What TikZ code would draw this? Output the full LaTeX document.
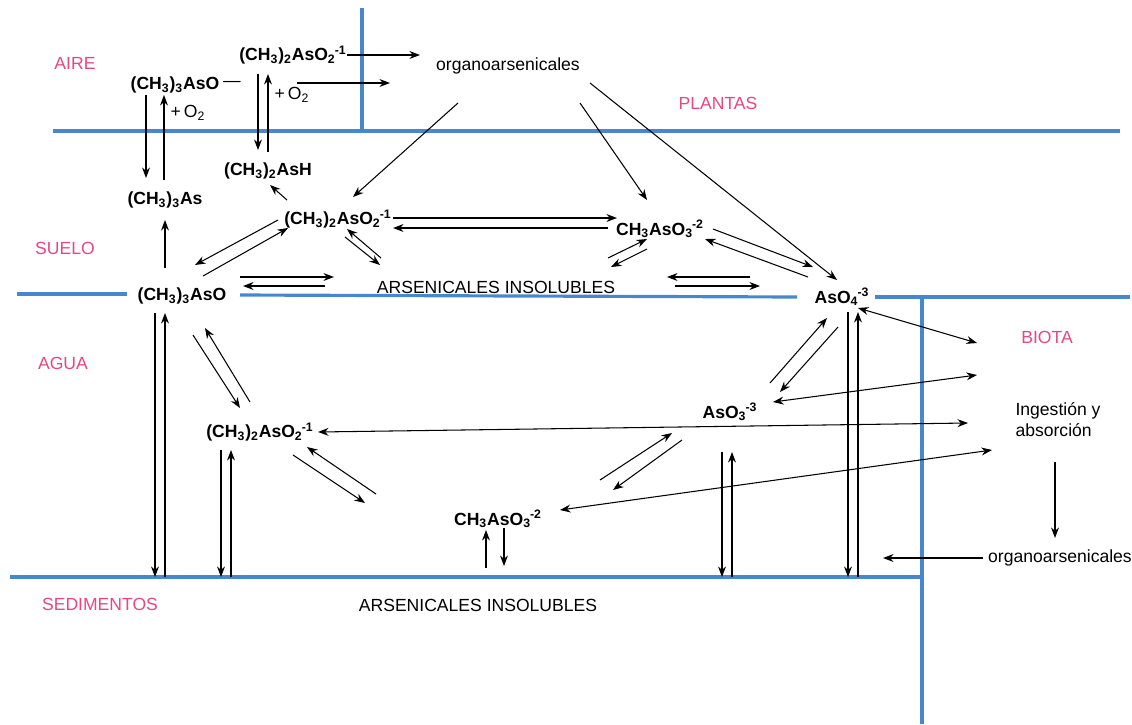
\documentclass[tikz,border=0pt]{standalone}
\usepackage{fontspec}
\setmainfont{Liberation Sans}
\usetikzlibrary{arrows.meta}
\definecolor{zonecol}{RGB}{228,72,130}
\definecolor{boundcol}{RGB}{70,135,205}
\newcommand\ssp[2]{\textsubscript{#1}\kern-0.5pt\textsuperscript{#2}}
\tikzset{
  chem/.style={font=\bfseries\fontsize{10}{12}\selectfont, inner sep=1pt},
  lbl/.style={font=\fontsize{10}{12}\selectfont, inner sep=1pt},
  zonelbl/.style={text=zonecol, font=\fontsize{10}{12}\selectfont},
  wall/.style={draw=boundcol, line width=1.8pt},
  arr/.style={-{Stealth[length=6pt,width=4.5pt]}, line width=0.6pt},
  dbl/.style={{Stealth[length=6pt,width=4.5pt]}-{Stealth[length=6pt,width=4.5pt]}, line width=0.6pt}
}
\begin{document}
\begin{tikzpicture}[x=0.02cm,y=-0.02cm]
\useasboundingbox (0,0) rectangle (1132,724);
% boundaries
\draw[wall] (362,8) -- (362,131);
\draw[wall] (53,131) -- (1120,131);
\draw[wall] (17,294) -- (127,294);
\draw[wall] (240,295) -- (797,297);
\draw[wall] (875,297) -- (1130,297);
\draw[wall] (922,297) -- (922,724);
\draw[wall] (10,577) -- (922,577);
% zone labels
\node[zonelbl] (zaire) at (75,63) {AIRE};
\node[zonelbl] (zplantas) at (718,103) {PLANTAS};
\node[zonelbl] (zsuelo) at (65,248) {SUELO};
\node[zonelbl] (zagua) at (63,363) {AGUA};
\node[zonelbl] (zsed) at (100,604) {SEDIMENTOS};
\node[zonelbl] (zbiota) at (1047,337) {BIOTA};
% species
\node[chem] (dmaA) at (293,55) {(CH\textsubscript{3})\textsubscript{2}AsO\ssp{2}{-1}};
\node[chem] (tmaoA) at (175,85) {(CH\textsubscript{3})\textsubscript{3}AsO};
\node[lbl] (dash) at (232,84) {—};
\node[lbl] (o2a) at (188,113) {+\,O\textsubscript{2}};
\node[lbl] (o2b) at (292,95) {+\,O\textsubscript{2}};
\node[lbl] (orgA) at (508,66) {organoarsenicales};
\node[chem] (dmah) at (268,171) {(CH\textsubscript{3})\textsubscript{2}AsH};
\node[chem] (tma) at (165,200) {(CH\textsubscript{3})\textsubscript{3}As};
\node[chem] (dmaS) at (338,219) {(CH\textsubscript{3})\textsubscript{2}AsO\ssp{2}{-1}};
\node[chem] (mmaS) at (660,229) {CH\textsubscript{3}AsO\ssp{3}{-2}};
\node[lbl] (insS) at (496,287) {ARSENICALES INSOLUBLES};
\node[chem] (tmaoS) at (182,296) {(CH\textsubscript{3})\textsubscript{3}AsO};
\node[chem] (as5) at (842,297) {AsO\ssp{4}{-3}};
\node[chem] (as3) at (730,412) {AsO\ssp{3}{-3}};
\node[chem] (dmaW) at (260,432) {(CH\textsubscript{3})\textsubscript{2}AsO\ssp{2}{-1}};
\node[chem] (mmaW) at (498,519) {CH\textsubscript{3}AsO\ssp{3}{-2}};
\node[lbl, align=left] (ing) at (1058,420) {Ingestión y\\absorción};
\node[lbl] (orgB) at (1060,558) {organoarsenicales};
\node[lbl] (insB) at (478,605) {ARSENICALES INSOLUBLES};
% one-way arrows
\foreach \n/\xa/\ya/\xb/\yb in {
  a1/347/55/420/55, a2/297/83/390/83, a3/146/95/146/178, a4/164/180/164/95,
  a5/258/74/258/150, a6/268/152/268/74, a7/287/200/270/185, a8/165/268/165/220,
  a9/458/103/353/197, a10/580/103/647/200, a11/590/83/837/280,
  a12/393/218/617/218, a13/608/228/393/228, a14/278/220/195/265, a15/203/276/288/228,
  a16/381/258/347/229, a17/345/237/380/265, a18/240/277/334/277, a19/325/286/243/286,
  a20/608/258/647/239, a21/647/249/611/267, a22/750/277/667/277, a23/675/286/760/286,
  a24/713/229/813/267, a25/808/277/705/239, a26/848/312/848/577, a27/858/577/858/312,
  a28/770/383/827/318, a29/838/327/780/392, a30/1055/462/1055/538, a31/983/558/883/558,
  a32/722/452/722/577, a33/732/577/732/452, a34/600/480/672/433, a35/682/440/613/490,
  a36/486/568/486/530, a37/504/528/504/566, a38/376/494/307/447, a39/293/455/365/503,
  a40/221/450/221/577, a41/231/577/231/450, a42/155/313/155/577, a43/165/577/165/313,
  a44/193/335/240/408, a45/250/402/205/328}
{
  \coordinate (\n s) at (\xa,\ya);
  \coordinate (\n e) at (\xb,\yb);
  \draw[arr] (\n s) -- (\n e);
}
% two-way arrows
\foreach \n/\xa/\ya/\xb/\yb in {
  b1/858/308/977/343, b2/773/402/977/375, b3/318/432/968/423, b4/560/510/992/450}
{
  \coordinate (\n s) at (\xa,\ya);
  \coordinate (\n e) at (\xb,\yb);
  \draw[dbl] (\n s) -- (\n e);
}
\end{tikzpicture}
\end{document}
